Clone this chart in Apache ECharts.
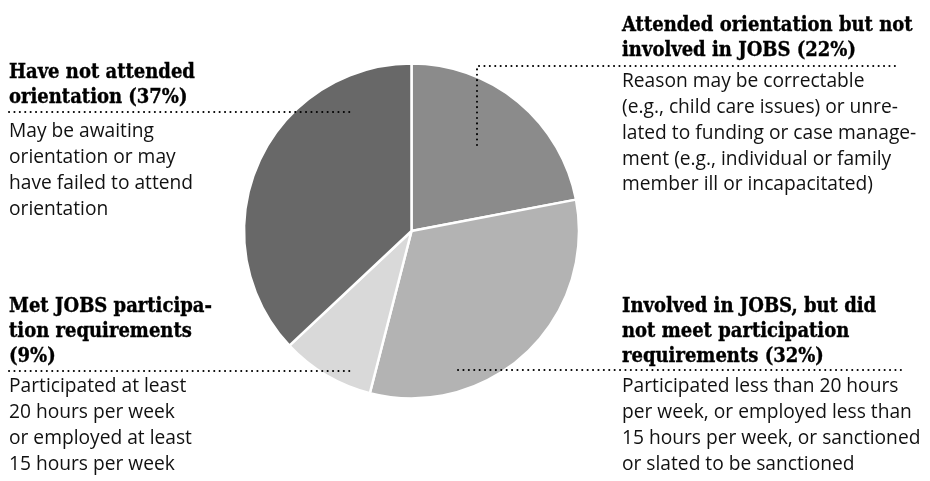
<!DOCTYPE html>
<html>
<head>
<meta charset="utf-8">
<script src="https://cdn.jsdelivr.net/npm/echarts@6/dist/echarts.min.js"></script>
<style>
html,body{margin:0;padding:0;background:#fff;}
#chart{width:930px;height:481px;}
</style>
</head>
<body>
<div id="chart"></div>
<script>
// ---- data ----
const categories = [
  'Attended orientation but not involved in JOBS',
  'Involved in JOBS, but did not meet participation requirements',
  'Met JOBS participation requirements',
  'Have not attended orientation'
];
const values = [22, 32, 9, 37];
const sliceColors = ['#8b8b8b', '#b3b3b3', '#d9d9d9', '#686868'];
const headerLines = [
  ['Attended orientation but not', 'involved in JOBS (22%)'],
  ['Involved in JOBS, but did', 'not meet participation', 'requirements (32%)'],
  ['Met JOBS participa-', 'tion requirements', '(9%)'],
  ['Have not attended', 'orientation (37%)']
];
const bodyLines = [
  ['Reason may be correctable', '(e.g., child care issues) or unre-', 'lated to funding or case manage-', 'ment (e.g., individual or family', 'member ill or incapacitated)'],
  ['Participated less than 20 hours', 'per week, or employed less than', '15 hours per week, or sanctioned', 'or slated to be sanctioned'],
  ['Participated at least', '20 hours per week', 'or employed at least', '15 hours per week'],
  ['May be awaiting', 'orientation or may', 'have failed to attend', 'orientation']
];

// ---- layout (annotation placement) ----
const blocks = [
  {x: 622, head: 30, body: 87, lines: [[477, 145], [477, 66], [900, 66]]},
  {x: 622, head: 311, body: 392, lines: [[458, 370], [905, 370]]},
  {x: 9, head: 311, body: 392, lines: [[9, 371], [351, 371]]},
  {x: 9, head: 77, body: 137, lines: [[9, 112], [351, 112]]}
];
const HEAD_FONT = "bold 20px 'DejaVu Serif Condensed', 'DejaVu Serif', serif";
const BODY_FONT = "19.2px 'Open Sans', 'Noto Sans', sans-serif";
const HEAD_LH = 25, BODY_LH = 25.7;
const HEAD_OFF = 5.5, BODY_OFF = 4.5;

const graphics = [];
blocks.forEach((b, i) => {
  headerLines[i].forEach((t, j) => {
    graphics.push({type: 'text', x: b.x, y: b.head + HEAD_OFF + j * HEAD_LH, silent: true,
      style: {text: t, font: HEAD_FONT, fill: '#000', stroke: '#000', lineWidth: 0.35,
        align: 'left', verticalAlign: 'bottom'}});
  });
  bodyLines[i].forEach((t, j) => {
    graphics.push({type: 'text', x: b.x, y: b.body + BODY_OFF + j * BODY_LH, silent: true,
      style: {text: t, font: BODY_FONT, fill: '#111', align: 'left', verticalAlign: 'bottom'}});
  });
  graphics.push({type: 'polyline', silent: true, z: 10,
    shape: {points: b.lines},
    style: {stroke: '#000', lineWidth: 2, lineDash: [0.1, 5.3], lineCap: 'round', fill: null}});
});

const chart = echarts.init(document.getElementById('chart'), null, {renderer: 'canvas'});
chart.setOption({
  animation: false,
  backgroundColor: '#fff',
  series: [{
    type: 'pie',
    center: [411.5, 231],
    radius: 167.5,
    startAngle: 90,
    clockwise: true,
    avoidLabelOverlap: false,
    label: {show: false},
    labelLine: {show: false},
    emphasis: {disabled: true},
    itemStyle: {borderColor: '#fff', borderWidth: 2.5},
    data: categories.map((c, i) => ({name: c, value: values[i], itemStyle: {color: sliceColors[i]}}))
  }],
  graphic: graphics
});
</script>
</body>
</html>
